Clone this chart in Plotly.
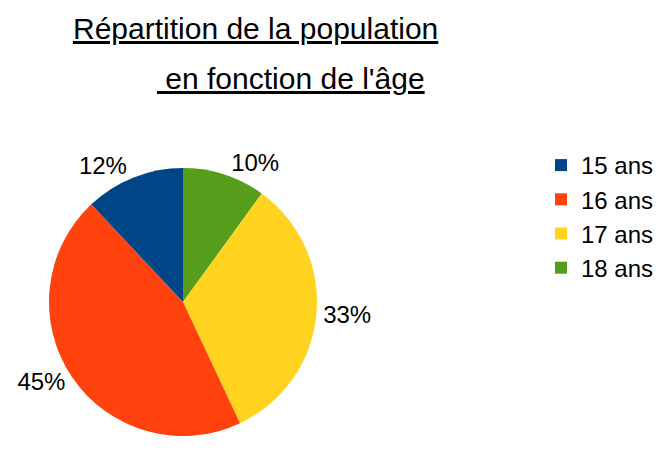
"""Répartition de la population en fonction de l'âge (diagramme circulaire)"""
import plotly.graph_objects as go

# données
ages = ["15 ans", "16 ans", "17 ans", "18 ans"]
parts = [12, 45, 33, 10]
couleurs = ["#004586", "#ff420e", "#ffd320", "#579d1c"]

titre_l1 = "Répartition de la population"
titre_l2 = "\u00a0en fonction de l'âge"

W, H = 661, 464
D = 8  # marge du <body> de la page html

# les parts tournent dans le sens inverse des aiguilles d'une montre depuis midi :
# on inverse l'ordre et on trace dans le sens horaire
fig = go.Figure()
fig.add_trace(go.Pie(
    labels=ages[::-1], values=parts[::-1],
    marker=dict(colors=couleurs[::-1], line=dict(width=0)),
    sort=False, direction="clockwise", rotation=0,
    textinfo="percent", texttemplate="%{percent:.0%}",
    textposition="outside",
    outsidetextfont=dict(size=24, color="#000000"),
    domain=dict(x=[(48 - D) / W, (318 - D) / W],
                y=[1 - (436 - D) / H, 1 - (168 - D) / H]),
    hoverinfo="label+percent",
))

fig.update_layout(
    width=W, height=H,
    margin=dict(l=0, r=0, t=0, b=0, autoexpand=False),
    paper_bgcolor="white",
    font=dict(family="Liberation Sans, Arial, sans-serif", color="#000000"),
    legend=dict(x=533 / W, y=1 - 135 / H, xanchor="left", yanchor="top",
                font=dict(size=24), traceorder="reversed"),
    annotations=[
        dict(text="<u>" + titre_l1 + "</u>", x=247.5 / W, y=1 - 20 / H,
             xref="paper", yref="paper", showarrow=False,
             xanchor="center", yanchor="middle", font=dict(size=30)),
        dict(text="<u>" + titre_l2 + "</u>", x=282.5 / W, y=1 - 71 / H,
             xref="paper", yref="paper", showarrow=False,
             xanchor="center", yanchor="middle", font=dict(size=30)),
    ],
)

fig.write_html("out.html")
